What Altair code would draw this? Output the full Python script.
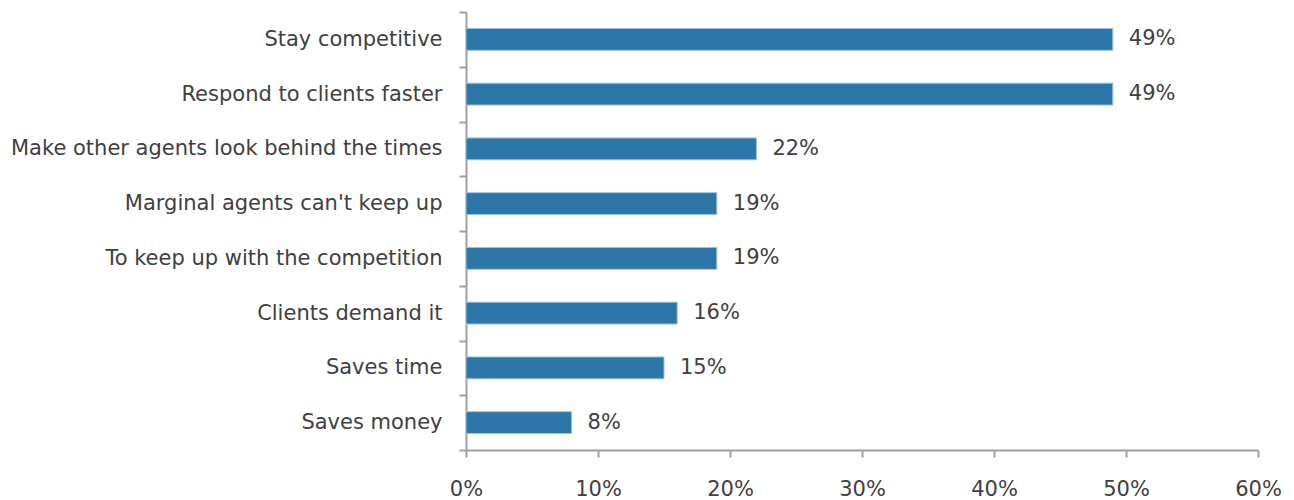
import altair as alt
import pandas as pd

categories = [
    "Stay competitive",
    "Respond to clients faster",
    "Make other agents look behind the times",
    "Marginal agents can't keep up",
    "To keep up with the competition",
    "Clients demand it",
    "Saves time",
    "Saves money",
]
values = [49, 49, 22, 19, 19, 16, 15, 8]
x_ticks = [0, 10, 20, 30, 40, 50, 60]

df = pd.DataFrame({"cat": categories, "val": values})
df["label"] = df["val"].astype(str) + "%"

FONT = "DejaVu Sans"
TXT = "#404040"
AX = "#A0A0A0"
FS = 21

y_enc = alt.Y(
    "cat:N",
    sort=categories,
    scale=alt.Scale(paddingInner=0, paddingOuter=0),
    axis=alt.Axis(
        title=None,
        tickBand="extent",
        grid=False,
        domainColor=AX,
        domainWidth=2,
        tickColor=AX,
        tickWidth=2,
        tickSize=7,
        labelPadding=17,
        labelFont=FONT,
        labelFontSize=FS,
        labelColor=TXT,
        labelLimit=600,
    ),
)
x_enc = alt.X(
    "val:Q",
    scale=alt.Scale(domain=[0, 60], nice=False),
    axis=alt.Axis(
        title=None,
        values=x_ticks,
        labelExpr="datum.value + '%'",
        grid=False,
        domainColor=AX,
        domainWidth=2,
        tickColor=AX,
        tickWidth=2,
        tickSize=7,
        labelPadding=21,
        labelFont=FONT,
        labelFontSize=FS,
        labelColor=TXT,
        labelFlush=False,
    ),
)

base = alt.Chart(df).encode(x=x_enc, y=y_enc)

bars = base.mark_bar(
    color="#2C77A8", stroke="#9CC3DD", strokeWidth=1,
    height=alt.RelativeBandSize(0.4),
)

text = base.mark_text(
    align="left", baseline="middle", dx=16, font=FONT, fontSize=FS, color=TXT
).encode(text="label:N")

chart = (
    alt.layer(bars, text)
    .properties(
        width=792,
        height=438,
        autosize=alt.AutoSizeParams(type="none"),
        padding={"left": 466, "top": 12, "right": 36, "bottom": 50},
        view=alt.ViewConfig(stroke="transparent", strokeWidth=0),
    )
    .configure_view(stroke="transparent", strokeWidth=0)
    .configure_axis(grid=False)
    .configure(background="white")
)

chart.save("out.html", embed_options={"renderer": "svg", "actions": False})
